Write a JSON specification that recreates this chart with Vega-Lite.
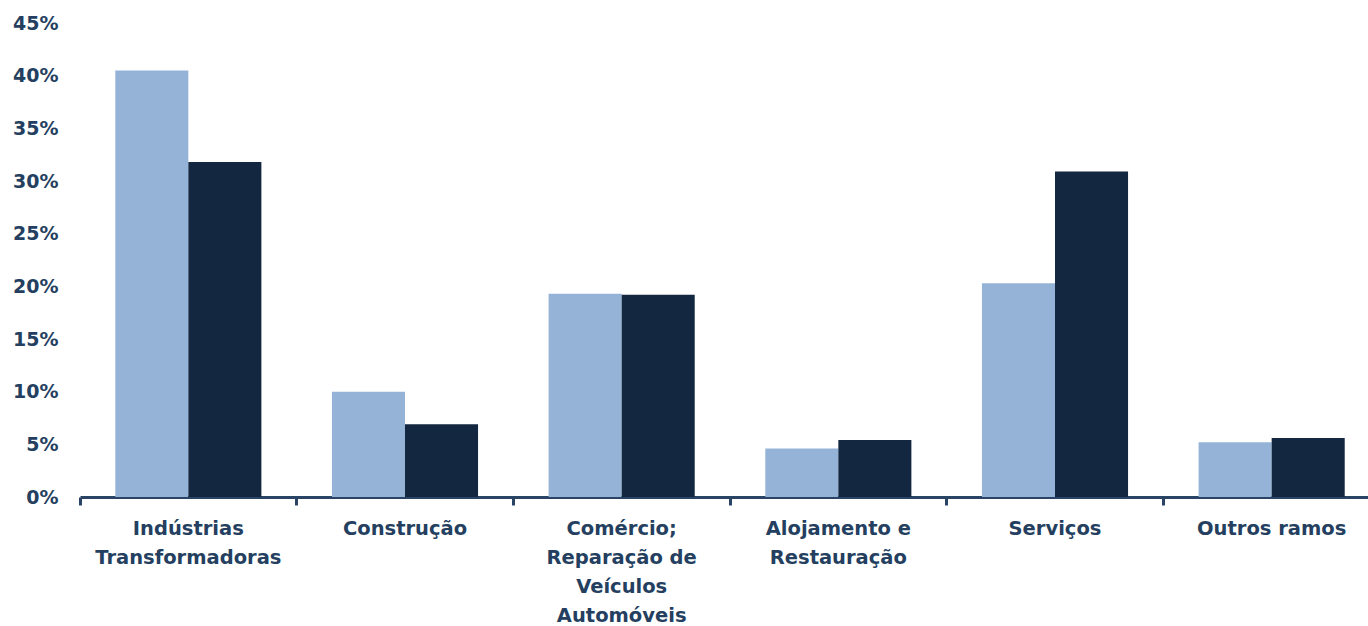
{
  "$schema": "https://vega.github.io/schema/vega-lite/v6.json",
  "autosize": "none",
  "width": 1300,
  "height": 474,
  "padding": {"left": 80, "top": 23, "right": 0, "bottom": 129},
  "background": "white",
  "config": {"view": {"stroke": null}, "font": "DejaVu Sans"},
  "data": {
    "values": [
      {"ramo": "Indústrias|Transformadoras", "serie": "A", "valor": 0.405},
      {"ramo": "Indústrias|Transformadoras", "serie": "B", "valor": 0.318},
      {"ramo": "Construção", "serie": "A", "valor": 0.100},
      {"ramo": "Construção", "serie": "B", "valor": 0.069},
      {"ramo": "Comércio;|Reparação de|Veículos|Automóveis", "serie": "A", "valor": 0.193},
      {"ramo": "Comércio;|Reparação de|Veículos|Automóveis", "serie": "B", "valor": 0.192},
      {"ramo": "Alojamento e|Restauração", "serie": "A", "valor": 0.046},
      {"ramo": "Alojamento e|Restauração", "serie": "B", "valor": 0.054},
      {"ramo": "Serviços", "serie": "A", "valor": 0.203},
      {"ramo": "Serviços", "serie": "B", "valor": 0.309},
      {"ramo": "Outros ramos", "serie": "A", "valor": 0.052},
      {"ramo": "Outros ramos", "serie": "B", "valor": 0.056}
    ]
  },
  "mark": {"type": "bar"},
  "encoding": {
    "x": {
      "field": "ramo",
      "type": "nominal",
      "sort": null,
      "scale": {"paddingInner": 0, "paddingOuter": 0},
      "axis": {
        "title": null,
        "labelExpr": "split(datum.label, '|')",
        "labelAngle": 0,
        "labelBaseline": "top",
        "labelFontSize": 19.5,
        "labelFontWeight": "bold",
        "labelColor": "#243F60",
        "labelLineHeight": 29,
        "labelPadding": 14,
        "domainColor": "#2A4466",
        "domainWidth": 3,
        "tickColor": "#2A4466",
        "tickWidth": 3,
        "tickSize": 8,
        "bandPosition": 0,
        "labelLimit": 300
      }
    },
    "xOffset": {
      "field": "serie",
      "type": "nominal",
      "scale": {"paddingInner": 0, "paddingOuter": 0.483}
    },
    "y": {
      "field": "valor",
      "type": "quantitative",
      "scale": {"domain": [0, 0.45], "nice": false},
      "axis": {
        "title": null,
        "values": [0, 0.05, 0.1, 0.15, 0.2, 0.25, 0.3, 0.35, 0.4, 0.45],
        "format": ".0%",
        "grid": false,
        "domain": false,
        "ticks": false,
        "labelFontSize": 19,
        "labelFontWeight": "bold",
        "labelColor": "#243F60",
        "labelPadding": 22
      }
    },
    "color": {
      "field": "serie",
      "type": "nominal",
      "scale": {"domain": ["A", "B"], "range": ["#95B3D7", "#132741"]},
      "legend": null
    }
  }
}
